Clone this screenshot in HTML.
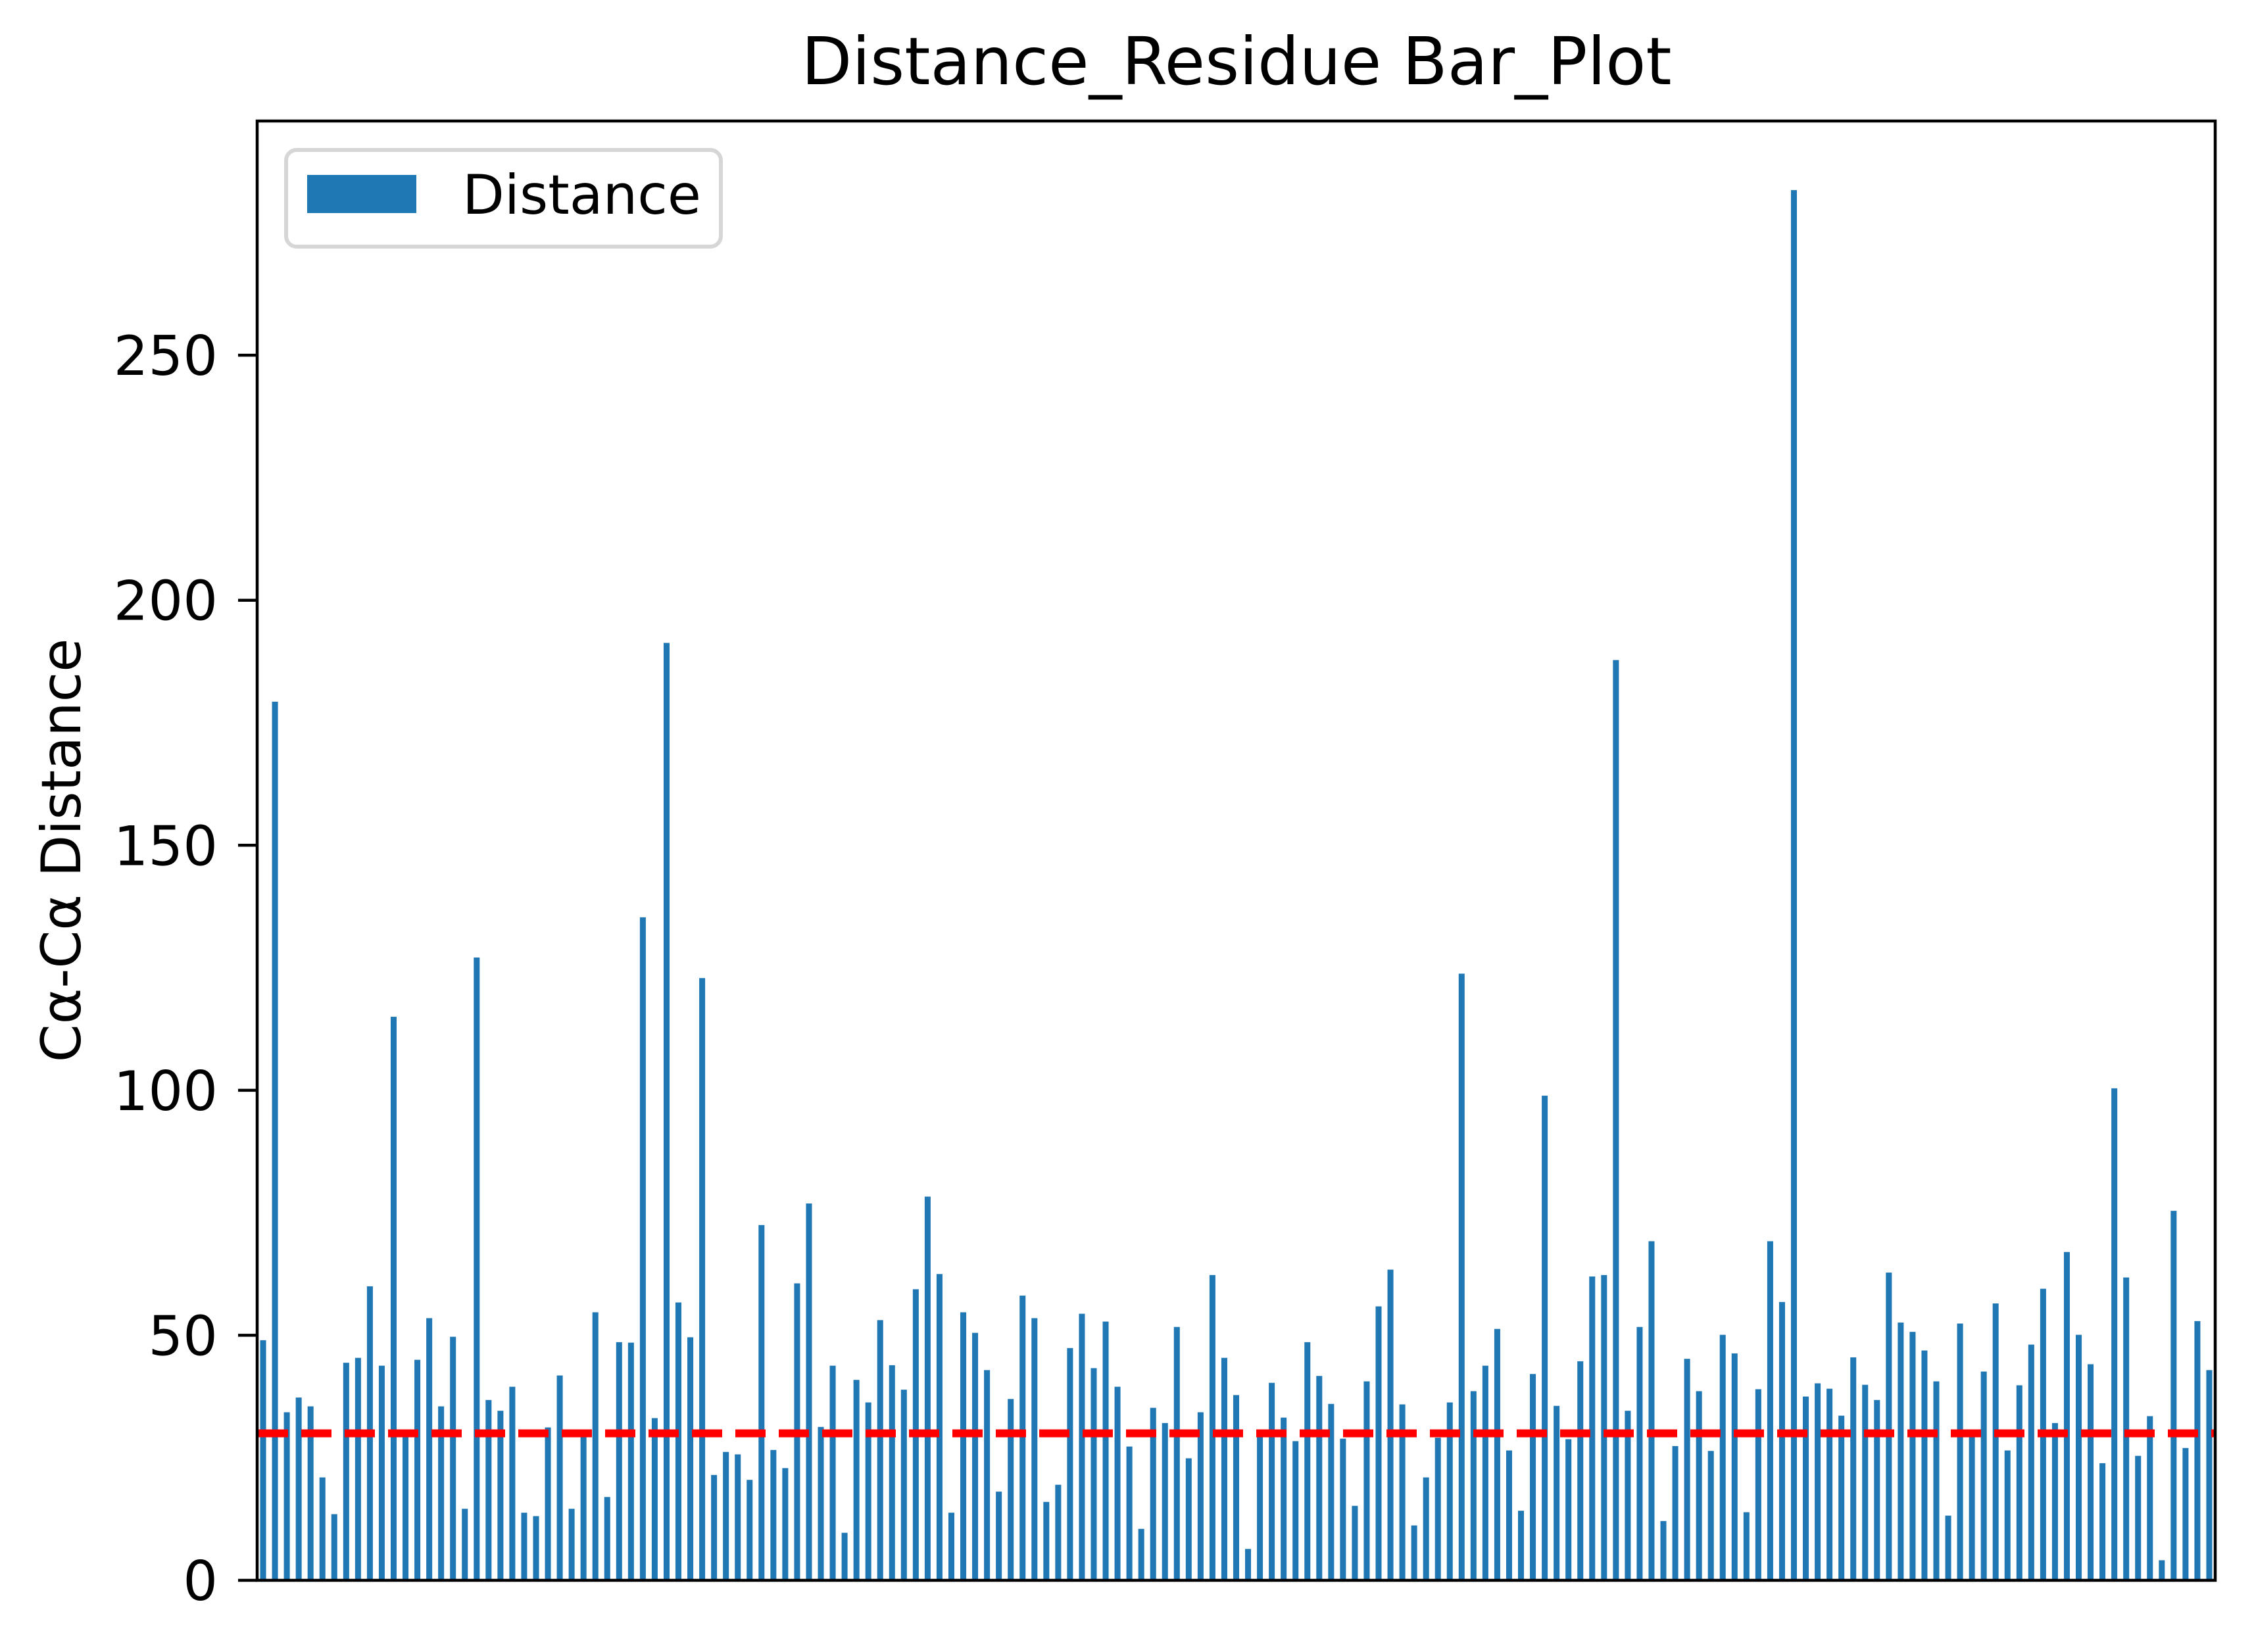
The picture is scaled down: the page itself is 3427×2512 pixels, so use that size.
<!DOCTYPE html>
<html><head><meta charset="utf-8"><style>
html,body{margin:0;padding:0;background:#fff;}
svg{display:block;font-family:"DejaVu Sans","Liberation Sans",sans-serif;}
</style></head><body>
<svg id="chart" width="3427" height="2512" viewBox="0 0 3427 2512" xmlns="http://www.w3.org/2000/svg">
<rect x="0" y="0" width="3427" height="2512" fill="#fff"/>
<text x="1880" y="128" font-size="100" text-anchor="middle" fill="#000">Distance_Residue Bar_Plot</text>
<text transform="translate(122,1293) rotate(-90)" font-size="83" text-anchor="middle" fill="#000">Cα-Cα Distance</text>
<g id="bars"></g>
<g id="yticks"></g>
<line id="threshold" stroke="#ff0000" stroke-width="12" stroke-dasharray="46 20"/>
<rect x="391" y="184" width="2977" height="2219" fill="none" stroke="#000" stroke-width="4.5"/>
<g>
<rect x="435" y="228" width="661" height="147" rx="16" fill="#fff" fill-opacity="0.8" stroke="#d6d6d6" stroke-width="6"/>
<rect x="467" y="266" width="166" height="58" fill="#1f77b4"/>
<text x="703" y="325" font-size="83" fill="#000">Distance</text>
</g>
</svg>
<script>
const values = [49.0,179.3,34.3,37.3,35.5,21.0,13.5,44.4,45.4,60.0,43.8,115.0,29.5,45.0,53.5,35.5,49.7,14.6,127.1,36.8,34.6,39.5,13.8,13.1,31.2,41.8,14.6,29.5,54.7,17.0,48.6,48.5,135.3,33.1,191.3,56.7,49.6,122.9,21.5,26.2,25.7,20.5,72.5,26.6,22.9,60.6,76.9,31.3,43.8,9.7,40.9,36.3,53.1,43.9,38.9,59.4,78.3,62.5,13.8,54.7,50.5,42.9,18.1,37.0,58.1,53.5,16.0,19.5,47.4,54.4,43.3,52.8,39.5,27.3,10.5,35.2,32.1,51.7,24.9,34.3,62.3,45.4,37.8,6.4,29.3,40.3,33.2,28.4,48.6,41.7,36.0,28.9,15.2,40.6,55.9,63.4,35.9,11.2,21.0,29.1,36.3,123.8,38.6,43.8,51.3,26.5,14.2,42.1,98.9,35.6,28.8,44.7,62.0,62.3,187.8,34.6,51.7,69.2,12.1,27.4,45.2,38.6,26.4,50.1,46.3,13.9,39.0,69.2,56.8,283.7,37.5,40.2,39.1,33.6,45.5,39.9,36.8,62.8,52.6,50.7,46.9,40.6,13.2,52.4,29.5,42.6,56.5,26.5,39.8,48.1,59.5,32.1,67.0,50.1,44.1,23.9,100.4,61.8,25.4,33.5,4.1,75.4,27.0,52.9,42.9];
const yTicks = [0,50,100,150,200,250];
const threshold = [30];
const NS='http://www.w3.org/2000/svg';
const L=391,R=3368,T=184,B=2403,YMAX=297.8;
function xScale(i){return L+(i+0.5)*(R-L)/values.length;}
function yScale(v){return B-v*(B-T)/YMAX;}
const barW=0.5*(R-L)/values.length;
const gb=document.getElementById('bars');
values.forEach((v,i)=>{
  const r=document.createElementNS(NS,'rect');
  r.setAttribute('x',xScale(i)-barW/2);
  r.setAttribute('y',yScale(v));
  r.setAttribute('width',barW);
  r.setAttribute('height',B-yScale(v));
  r.setAttribute('fill','#1f77b4');
  
  
  gb.appendChild(r);
});
const gy=document.getElementById('yticks');
yTicks.forEach(t=>{
  const y=yScale(t);
  const l=document.createElementNS(NS,'line');
  l.setAttribute('x1',L-29);l.setAttribute('x2',L);
  l.setAttribute('y1',y);l.setAttribute('y2',y);
  l.setAttribute('stroke','#000');l.setAttribute('stroke-width','4.5');
  
  
  gy.appendChild(l);
  const tx=document.createElementNS(NS,'text');
  tx.setAttribute('x',L-60);tx.setAttribute('y',y+30);
  tx.setAttribute('font-size','83');tx.setAttribute('text-anchor','end');
  tx.textContent=t;
  
  
  gy.appendChild(tx);
});
const th=document.getElementById('threshold');
th.setAttribute('x1',L+1);th.setAttribute('x2',R);
th.setAttribute('y1',yScale(threshold[0]));th.setAttribute('y2',yScale(threshold[0]));
</script>
</body></html>
